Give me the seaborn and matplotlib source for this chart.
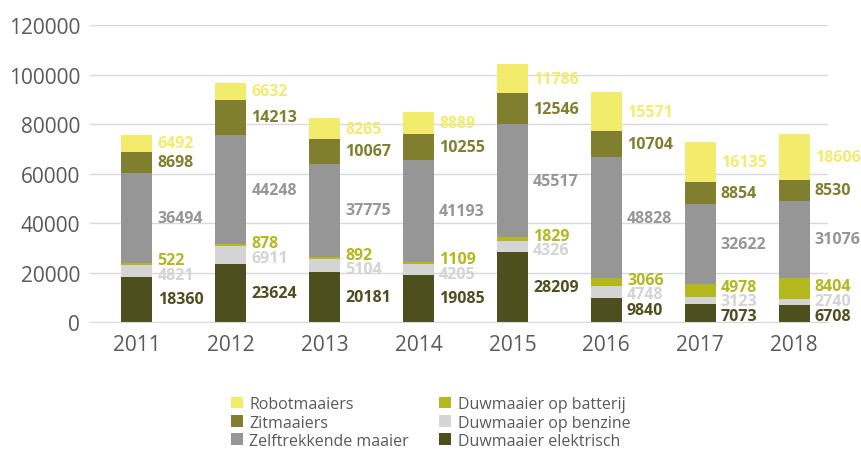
import numpy as np
import pandas as pd
import matplotlib
matplotlib.use('Agg')
import matplotlib.pyplot as plt
import matplotlib.patches as mpatches
import seaborn as sns

# ── Data ──────────────────────────────────────────────────────
years = ['2011', '2012', '2013', '2014', '2015', '2016', '2017', '2018']

elektrisch   = [18360, 23624, 20181, 19085, 28209, 9840, 7073, 6708]
benzine      = [4821, 6911, 5104, 4205, 4326, 4748, 3123, 2740]
batterij     = [522, 878, 892, 1109, 1829, 3066, 4978, 8404]
zelftrekkend = [36494, 44248, 37775, 41193, 45517, 48828, 32622, 31076]
zitmaaiers   = [8698, 14213, 10067, 10255, 12546, 10704, 8854, 8530]
robot        = [6492, 6632, 8265, 8889, 11786, 15571, 16135, 18606]

# bottom → top
series = [
    ('Duwmaaier elektrisch', elektrisch,   '#4d4f1f'),
    ('Duwmaaier op benzine', benzine,      '#d4d4d4'),
    ('Duwmaaier op batterij', batterij,    '#b3b81d'),
    ('Zelftrekkende maaier', zelftrekkend, '#969696'),
    ('Zitmaaiers',           zitmaaiers,   '#7f7f2f'),
    ('Robotmaaiers',         robot,        '#f3eb6c'),
]

sns.set_style('white')
plt.rcParams['font.family'] = ['Open Sans', 'DejaVu Sans']

fig = plt.figure(figsize=(8.61, 4.52), dpi=100)
ax = fig.add_axes([0.1045, 0.2854, 0.857, 0.657])

vals = np.array([s[1] for s in series], dtype=float)
cum = np.cumsum(vals, axis=0)
bases = cum - vals

# draw cumulative totals from the top layer down so they overlap into stacks
for i in range(len(series) - 1, -1, -1):
    df = pd.DataFrame({'year': years, 'value': cum[i]})
    sns.barplot(data=df, x='year', y='value', color=series[i][2],
                saturation=1, width=0.33, ax=ax, zorder=2,
                linewidth=0, edgecolor=series[i][2])

# ── Labels (right of bars, spread apart where crowded) ────────
min_gap = 6000
for j in range(len(years)):
    mids = list(bases[:, j] + vals[:, j] / 2)
    for _ in range(50):
        for k in range(len(mids) - 1):
            gap = mids[k + 1] - mids[k]
            if gap < min_gap:
                push = (min_gap - gap) / 2
                mids[k] -= push
                mids[k + 1] += push
    for i, (name, v, col) in enumerate(series):
        ax.text(j + 0.22, mids[i], f'{int(v[j])}', color=col,
                fontsize=11.5, fontweight='bold', ha='left', va='center')

ax.set_ylim(0, 120000)
ax.set_yticks(range(0, 120001, 20000))
ax.set_xlim(-0.5, 7.36)
ax.set_xlabel('')
ax.set_ylabel('')
ax.grid(axis='y', color='#d9d9d9', linewidth=1, zorder=0)
ax.set_axisbelow(True)
for sp in ['left', 'right', 'top']:
    ax.spines[sp].set_visible(False)
ax.spines['bottom'].set_color('#d9d9d9')
ax.tick_params(axis='both', length=0, labelsize=15, colors='#595959')
ax.tick_params(axis='x', pad=9)
ax.tick_params(axis='y', pad=7)

# ── Legend ────────────────────────────────────────────────────
order = [5, 4, 3, 2, 1, 0]
handles = [mpatches.Patch(facecolor=series[i][2], edgecolor='none', label=series[i][0])
           for i in order]
fig.legend(handles=handles, ncol=2, loc='center', bbox_to_anchor=(0.5, 0.063),
           frameon=False, fontsize=11.5, labelcolor='#595959',
           handlelength=0.75, handleheight=0.75, handletextpad=0.4,
           columnspacing=1.9, labelspacing=0.15)

plt.savefig('out.png', dpi=100)
plt.close()
